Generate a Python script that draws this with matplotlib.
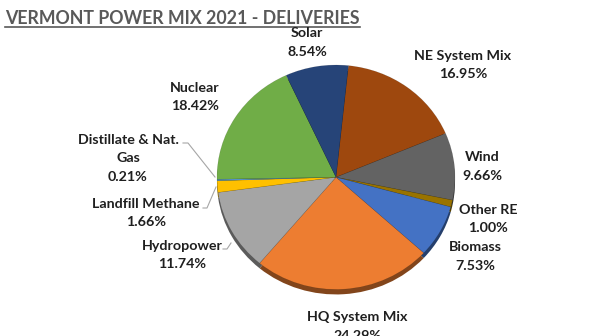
import matplotlib
matplotlib.use("Agg")
from matplotlib import pyplot as plt
import matplotlib.colors as mcolors

# data, clockwise from the top of the pie
sources = ["NE System Mix", "Wind", "Other RE", "Biomass", "HQ System Mix",
           "Hydropower", "Landfill Methane", "Distillate & Nat.\nGas", "Nuclear", "Solar"]
shares = [16.95, 9.66, 1.00, 7.53, 24.29, 11.74, 1.66, 0.21, 18.42, 8.54]
colors = ["#9E480E", "#636363", "#997300", "#4472C4", "#ED7D31",
          "#A5A5A5", "#FFC000", "#5B9BD5", "#70AD47", "#264478"]

# label anchor points in pixels (x, y of first line)
label_pos = [(463, 56), (482, 157), (488, 210), (475, 247), (357, 317),
             (182, 246), (146, 204), (128, 140), (195, 88), (307, 33)]

W, H = 597, 336
fig = plt.figure(figsize=(W / 100, H / 100), dpi=100)

# pie axes, placed so the ellipse sits where the reference has it
cx, cy, rx, ry = 336, 180, 119, 115
pie_ax = fig.add_axes([(cx - rx) / W, (H - cy - ry) / H, 2 * rx / W, 2 * ry / H])


def darker(c, f=0.55):
    r, g, b = mcolors.to_rgb(c)
    return (r * f, g * f, b * f)


# side of the "3d" pie, shifted down a little
pie_ax.pie(shares, colors=[darker(c) for c in colors], startangle=84,
           counterclock=False, center=(0, -0.045), radius=1.0,
           wedgeprops=dict(linewidth=0))
pie_ax.pie(shares, colors=colors, startangle=84, counterclock=False,
           radius=1.0, wedgeprops=dict(linewidth=0.3, edgecolor="#00000030"))
pie_ax.set_xlim(-1, 1)
pie_ax.set_ylim(-1.05, 1)
pie_ax.set_aspect("auto")
pie_ax.axis("off")

# overlay in pixel coordinates for the title and labels
lab = fig.add_axes([0, 0, 1, 1])
lab.set_xlim(0, W)
lab.set_ylim(H, 0)
lab.axis("off")
lab.patch.set_alpha(0)

font = "Lato"
lab.text(5, 18, "VERMONT POWER MIX 2021 - DELIVERIES", fontsize=12.8, fontweight="bold",
         color="#595959", family=font, ha="left", va="center")
lab.plot([5, 360], [27, 27], color="#595959", lw=1.2)

for name, val, (x, y) in zip(sources, shares, label_pos):
    lines = name.split("\n") + [f"{val:.2f}%"]
    for i, t in enumerate(lines):
        lab.text(x, y + i * 18.5, t, fontsize=10.3, fontweight="bold", color="#1F1F1F",
                 family=font, ha="center", va="center")

# leader lines
lc = "#A6A6A6"
lab.plot([183, 188, 215], [143, 143, 177], color=lc, lw=0.8)
lab.plot([203, 207, 216], [208, 208, 187], color=lc, lw=0.8)
lab.plot([223, 227, 231], [249, 249, 243], color=lc, lw=0.8)

fig.savefig("out.png", dpi=100)
